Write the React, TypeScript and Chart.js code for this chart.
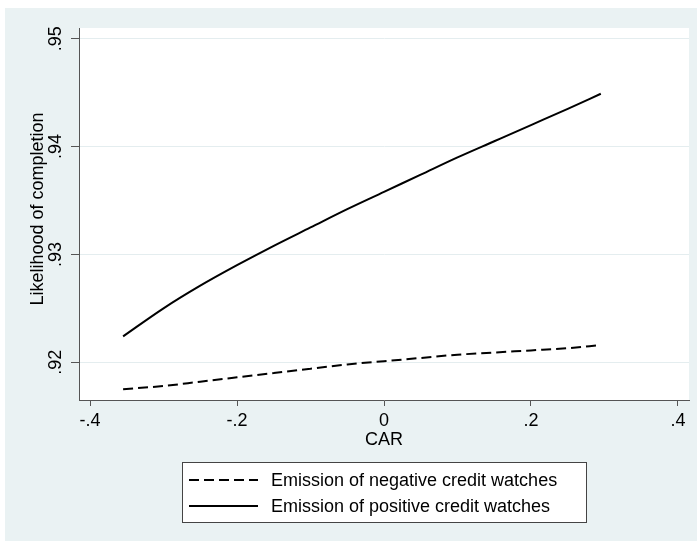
import React, { useEffect, useRef } from "react";
import { Chart, registerables } from "chart.js";

Chart.register(...registerables);

// CAR grid at which the predicted likelihood is evaluated
const carValues = [-0.355, -0.3, -0.25, -0.2, -0.15, -0.1, -0.05, 0, 0.05, 0.1, 0.15, 0.2, 0.25, 0.295];
const negativeWatches = [0.9175, 0.9178, 0.9182, 0.9186, 0.919, 0.9194, 0.9198, 0.9201, 0.9204, 0.9207, 0.9209, 0.9211, 0.9213, 0.9216];
const positiveWatches = [0.9224, 0.925, 0.9271, 0.929, 0.9308, 0.9325, 0.9342, 0.9358, 0.9374, 0.939, 0.9405, 0.942, 0.9435, 0.9449];

const xTicks = [-0.4, -0.2, 0, 0.2, 0.4];
const xTickLabels = ["-.4", "-.2", "0", ".2", ".4"];
const yTicks = [0.92, 0.93, 0.94, 0.95];
const yTickLabels = [".92", ".93", ".94", ".95"];
const seriesLabels = ["Emission of negative credit watches", "Emission of positive credit watches"];
const xTitle = "CAR";
const yTitle = "Likelihood of completion";

const FONT = "Arial, 'Liberation Sans', sans-serif";
const BG = "#EAF2F3";
const AXIS = "#555555";

const decorPlugin = {
  id: "stataDecor",
  beforeDraw(chart: any) {
    const { ctx, chartArea } = chart;
    ctx.save();
    ctx.fillStyle = "#ffffff";
    ctx.fillRect(0, 0, chart.width, chart.height);
    ctx.fillStyle = BG;
    ctx.fillRect(5, 8, chart.width - 5, chart.height - 8);
    ctx.fillStyle = "#ffffff";
    ctx.fillRect(chartArea.left, chartArea.top, chartArea.right - chartArea.left, chartArea.bottom - chartArea.top);
    ctx.restore();
  },
  afterDraw(chart: any) {
    const { ctx, chartArea, scales } = chart;
    const y = scales.y;
    ctx.save();
    ctx.fillStyle = "#000000";
    ctx.font = `18px ${FONT}`;
    ctx.textAlign = "center";
    ctx.textBaseline = "middle";
    // rotated y tick labels
    yTicks.forEach((v, i) => {
      const py = y.getPixelForValue(v);
      ctx.save();
      ctx.translate(56, py);
      ctx.rotate(-Math.PI / 2);
      ctx.fillText(yTickLabels[i], 0, 0);
      ctx.restore();
    });
    // y title
    ctx.save();
    ctx.translate(38, 209);
    ctx.rotate(-Math.PI / 2);
    ctx.fillText(yTitle, 0, 0);
    ctx.restore();
    // x title
    ctx.fillText(xTitle, (chartArea.left + chartArea.right) / 2, 440);

    // legend
    const bx = 182, by = 462, bw = 404, bh = 60;
    ctx.fillStyle = "#ffffff";
    ctx.fillRect(bx, by, bw, bh);
    ctx.strokeStyle = "#444444";
    ctx.lineWidth = 1;
    ctx.strokeRect(bx + 0.5, by + 0.5, bw, bh);
    chart.data.datasets.forEach((ds: any, i: number) => {
      const rowY = 480 + i * 26;
      ctx.save();
      ctx.strokeStyle = ds.borderColor;
      ctx.lineWidth = ds.borderWidth;
      ctx.setLineDash(ds.borderDash || []);
      ctx.beginPath();
      ctx.moveTo(189, rowY);
      ctx.lineTo(258, rowY);
      ctx.stroke();
      ctx.restore();
      ctx.fillStyle = "#000000";
      ctx.textAlign = "left";
      ctx.fillText(ds.label, 271, rowY + 1);
    });
    ctx.restore();
  },
};

export default function App() {
  const canvasRef = useRef<HTMLCanvasElement | null>(null);

  useEffect(() => {
    if (!canvasRef.current) return;
    const chart = new Chart(canvasRef.current, {
      type: "line",
      data: {
        datasets: [
          {
            label: seriesLabels[0],
            data: carValues.map((x, i) => ({ x, y: negativeWatches[i] })),
            borderColor: "#000000",
            borderWidth: 2,
            borderDash: [10, 5],
            pointRadius: 0,
            cubicInterpolationMode: "monotone",
            fill: false,
          },
          {
            label: seriesLabels[1],
            data: carValues.map((x, i) => ({ x, y: positiveWatches[i] })),
            borderColor: "#000000",
            borderWidth: 2,
            pointRadius: 0,
            cubicInterpolationMode: "monotone",
            fill: false,
          },
        ],
      },
      options: {
        animation: false,
        responsive: false,
        devicePixelRatio: 1,
        layout: { padding: { left: 0, top: 28, right: 8, bottom: 91 } },
        plugins: { legend: { display: false }, tooltip: { enabled: false } },
        scales: {
          x: {
            type: "linear",
            min: -0.415,
            max: 0.415,
            afterBuildTicks: (s: any) => {
              s.ticks = xTicks.map((v) => ({ value: v }));
            },
            afterFit: (s: any) => {
              s.height = 50;
            },
            ticks: {
              color: "#000000",
              font: { size: 18, family: FONT },
              padding: 4,
              maxRotation: 0,
              callback: (v: any) => xTickLabels[xTicks.indexOf(Number(v))] ?? "",
            },
            grid: { drawOnChartArea: false, drawTicks: true, tickLength: 6, tickColor: AXIS },
            border: { display: true, color: AXIS, width: 1 },
          },
          y: {
            type: "linear",
            min: 0.9165,
            max: 0.951,
            afterBuildTicks: (s: any) => {
              s.ticks = yTicks.map((v) => ({ value: v }));
            },
            afterFit: (s: any) => {
              s.width = 79;
            },
            ticks: { display: false },
            grid: { color: "#E4EDEF", drawTicks: true, tickLength: 8, tickColor: AXIS, lineWidth: 1 },
            border: { display: true, color: AXIS, width: 1 },
          },
        },
      },
      plugins: [decorPlugin],
    } as any);
    return () => chart.destroy();
  }, []);

  return (
    <div style={{ position: "absolute", left: 0, top: 0, width: 697, height: 541 }}>
      <canvas ref={canvasRef} width={697} height={541} style={{ display: "block" }} />
    </div>
  );
}
